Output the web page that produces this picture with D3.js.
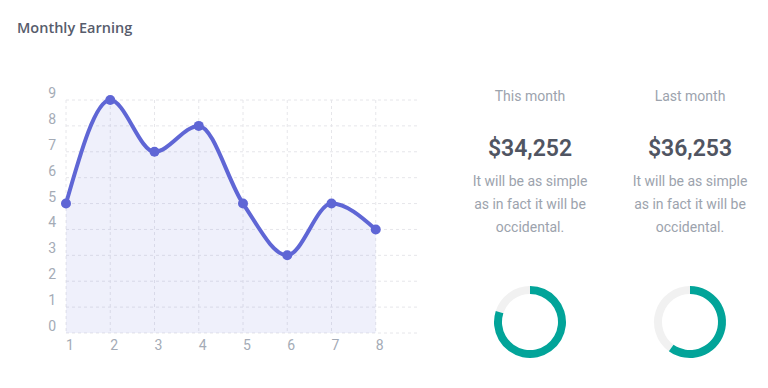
<!DOCTYPE html>
<html>
<head>
<meta charset="utf-8">
<script src="https://cdn.jsdelivr.net/npm/d3@7"></script>
<style>
  body { margin: 0; background: #fff; }
  svg { display: block; font-family: Roboto, sans-serif; }
</style>
</head>
<body>
<svg width="768" height="388"></svg>
<script>
var months = [1, 2, 3, 4, 5, 6, 7, 8];
var earnings = [5, 9, 7, 8, 5, 3, 5, 4];
var yTicks = [0, 1, 2, 3, 4, 5, 6, 7, 8, 9];

var statLabels = ["This month", "Last month"];
var statValues = ["$34,252", "$36,253"];
var statText = ["It will be as simple", "as in fact it will be", "occidental."];
var donutPct = [80, 60];

var svg = d3.select("svg");

svg.append("text")
    .attr("x", 17)
    .attr("y", 33)
    .style("font-family", "'Open Sans', sans-serif")
    .style("font-size", "14.5px")
    .style("font-weight", 600)
    .style("fill", "#575c6c")
    .text("Monthly Earning");

// line chart
var x = d3.scaleLinear().domain([1, 9]).range([66, 420]);
var y = d3.scaleLinear().domain([0, 9]).range([333, 100]);

var g = svg.append("g");

g.selectAll(".hgrid")
    .data(yTicks)
  .enter().append("line")
    .attr("x1", x(1)).attr("x2", 417)
    .attr("y1", function(d) { return y(d); })
    .attr("y2", function(d) { return y(d); })
    .style("stroke", "#e6e6ea")
    .style("stroke-width", 1)
    .style("stroke-dasharray", "3,3");

g.selectAll(".vgrid")
    .data(months)
  .enter().append("line")
    .attr("x1", function(d) { return x(d); })
    .attr("x2", function(d) { return x(d); })
    .attr("y1", y(9)).attr("y2", y(0))
    .style("stroke", "#e6e6ea")
    .style("stroke-width", 1)
    .style("stroke-dasharray", "3,3");

g.selectAll(".ylab")
    .data(yTicks)
  .enter().append("text")
    .attr("x", 56)
    .attr("y", function(d) { return y(d) - 2; })
    .attr("text-anchor", "end")
    .style("font-size", "14px")
    .style("fill", "#a4abb6")
    .text(function(d) { return d; });

g.selectAll(".xlab")
    .data(months)
  .enter().append("text")
    .attr("x", function(d) { return x(d); })
    .attr("y", 350)
    .style("font-size", "14px")
    .style("fill", "#a4abb6")
    .text(function(d) { return d; });

var pts = months.map(function(m, i) { return [m, earnings[i]]; });

var area = d3.area()
    .x(function(d) { return x(d[0]); })
    .y0(y(0))
    .y1(function(d) { return y(d[1]); })
    .curve(d3.curveMonotoneX);

var line = d3.line()
    .x(function(d) { return x(d[0]); })
    .y(function(d) { return y(d[1]); })
    .curve(d3.curveMonotoneX);

g.append("path")
    .datum(pts)
    .attr("d", area)
    .style("fill", "#5f67d6")
    .style("fill-opacity", 0.1);

g.append("path")
    .datum(pts)
    .attr("d", line)
    .style("fill", "none")
    .style("stroke", "#5f66d5")
    .style("stroke-width", 4);

g.selectAll(".pt")
    .data(pts)
  .enter().append("circle")
    .attr("cx", function(d) { return x(d[0]); })
    .attr("cy", function(d) { return y(d[1]); })
    .attr("r", 5)
    .style("fill", "#5f66d5");

// stats
var cols = [530, 690];
var arc = d3.arc().innerRadius(28).outerRadius(36);

cols.forEach(function(cx, i) {
  var s = svg.append("g");
  s.append("text")
      .attr("x", cx).attr("y", 101)
      .attr("text-anchor", "middle")
      .style("font-size", "14px")
      .style("fill", "#9ca3ad")
      .text(statLabels[i]);
  s.append("text")
      .attr("x", cx).attr("y", 156)
      .attr("text-anchor", "middle")
      .style("font-size", "23px")
      .style("font-weight", 600)
      .style("fill", "#505562")
      .text(statValues[i]);
  s.selectAll(".desc")
      .data(statText)
    .enter().append("text")
      .attr("x", cx)
      .attr("y", function(d, j) { return 186 + j * 23; })
      .attr("text-anchor", "middle")
      .style("font-size", "14px")
      .style("fill", "#9ca3ad")
      .text(function(d) { return d; });

  var dg = s.append("g").attr("transform", "translate(" + cx + ",322)");
  var k = donutPct[i] / 100 * 2 * Math.PI;
  dg.append("path")
      .attr("d", arc({startAngle: k, endAngle: 2 * Math.PI}))
      .style("fill", "#f1f1f1");
  dg.append("path")
      .attr("d", arc({startAngle: 0, endAngle: k}))
      .style("fill", "#02a499");
});
</script>
</body>
</html>
